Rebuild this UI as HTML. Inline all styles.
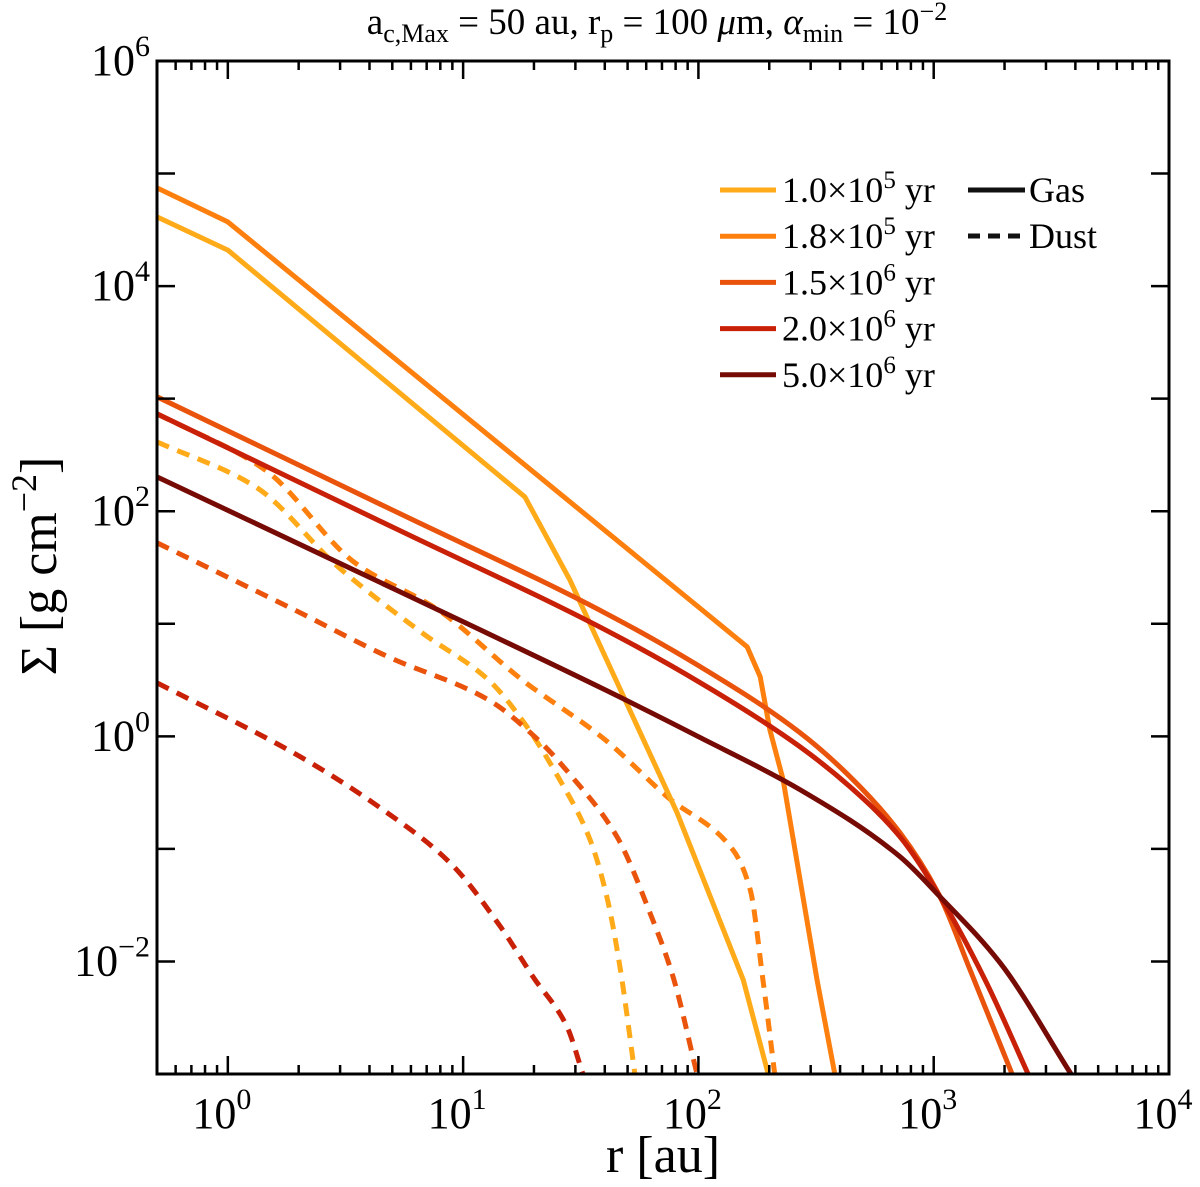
<!DOCTYPE html>
<html><head><meta charset="utf-8"><style>
body{margin:0;background:#fff}
svg{display:block;font-family:"Liberation Serif",serif}
</style></head><body>
<svg id="chart" width="1200" height="1187" viewBox="0 0 1200 1187">
<defs><clipPath id="clip"><rect x="157" y="61" width="1012" height="1013"/></clipPath></defs>
<text x="657" y="34" font-size="37" text-anchor="middle">a<tspan font-size="26" dy="8">c,Max</tspan><tspan dy="-8"> = 50 au, r</tspan><tspan font-size="26" dy="8">p</tspan><tspan dy="-8"> = 100 </tspan><tspan font-style="italic">μ</tspan><tspan>m, </tspan><tspan font-style="italic">α</tspan><tspan font-size="26" dy="8">min</tspan><tspan dy="-8"> = 10</tspan><tspan font-size="26" dy="-14">−2</tspan></text>
<g id="series" clip-path="url(#clip)"></g>
<g id="axes"></g>
<text x="663" y="1172" font-size="52" text-anchor="middle">r [au]</text>
<text transform="translate(56,566) rotate(-90)" font-size="52" text-anchor="middle">Σ [g cm<tspan font-size="36" dy="-20">−2</tspan><tspan dy="20">]</tspan></text>
<g id="legend"></g>
</svg>
<script>
const xTicks=[0,1,2,3,4];
const yTicks=[-2,0,2,4,6];
const labels=["1.0×10","1.8×10","1.5×10","2.0×10","5.0×10"];
const labelExp=["5","5","6","6","6"];
const colors=["#ffaa18","#fd7f0d","#ea530b","#c92107","#760a04"];
const gasR=[[0.5,1,18.3,28.4,81.1,155,198],[0.5,1,161,183,201,229,319,380],[0.5,5.4,40.1,102,270,441,719,1064,1426,2153],[0.5,5.4,40.1,102,270,441,719,1064,1652,2518],[0.5,5.4,40.1,102,270,719,1064,1914,3831]];
const gasS=[[4.12e4,2.09e4,134,24.6,0.210,6.89e-3,1e-3],[7.45e4,3.72e4,6.25,3.38,1.15,0.412,6.89e-3,1e-3],[1038,94.8,12.5,4.15,1.08,0.438,0.139,0.0376,8.45e-3,1e-3],[733,67.0,8.85,2.99,0.809,0.356,0.128,0.0376,6.89e-3,1e-3],[202,19.2,2.59,0.973,0.336,0.0853,0.0376,9.75e-3,1e-3]];
const dustR=[[0.5,1.31,2.94,6.69,12.8,17.8,25.3,34.6,40.8,46.4,53.7],[0.5,1.44,3.47,7.82,17.8,40.1,73.6,140,166,188,211],[0.5,1.80,4.80,12.8,20.8,29.0,45.1,62.2,78.0,98.6],[0.5,2.03,4.56,8.79,14.4,19.8,27.6,32.3]];
const dustS=[[413,165,32.1,8.32,3.18,1.40,0.438,0.121,0.0376,9.0e-3,1e-3],[733,233,34.8,13.3,3.18,0.933,0.291,0.0984,0.0434,6.89e-3,1e-3],[52.4,14.2,5.09,2.11,0.933,0.438,0.128,0.0271,7.33e-3,1e-3],[2.99,0.659,0.223,0.0754,0.0204,7.33e-3,2.64e-3,1e-3]];
const L=157,R=1169,T=61,B=1074,xmin=Math.log10(0.5),xmax=4,ymin=-3,ymax=6;
const NS="http://www.w3.org/2000/svg";
function X(v){return L+(Math.log10(v)-xmin)/(xmax-xmin)*(R-L);}
function Y(v){return B-(Math.log10(v)-ymin)/(ymax-ymin)*(B-T);}
function mk(t,a,p){const e=document.createElementNS(NS,t);for(const k in a)e.setAttribute(k,a[k]);p.appendChild(e);return e;}
const sg=document.getElementById('series');
function pathD(pts,smooth){
  if(!smooth)return pts.map((p,i)=>(i?'L':'M')+p[0].toFixed(1)+','+p[1].toFixed(1)).join('');
  const n=pts.length,h=[],dl=[],m=[];
  for(let i=0;i<n-1;i++){h[i]=pts[i+1][0]-pts[i][0];dl[i]=(pts[i+1][1]-pts[i][1])/h[i];}
  m[0]=dl[0];m[n-1]=dl[n-2];
  for(let i=1;i<n-1;i++){
    if(dl[i-1]*dl[i]<=0)m[i]=0;
    else{const w1=2*h[i]+h[i-1],w2=h[i]+2*h[i-1];m[i]=(w1+w2)/(w1/dl[i-1]+w2/dl[i]);}
  }
  let d='M'+pts[0][0].toFixed(1)+','+pts[0][1].toFixed(1);
  for(let i=0;i<n-1;i++){
    const p1=pts[i],p2=pts[i+1],hh=h[i]/3;
    d+='C'+(p1[0]+hh).toFixed(1)+','+(p1[1]+m[i]*hh).toFixed(1)+' '+(p2[0]-hh).toFixed(1)+','+(p2[1]-m[i+1]*hh).toFixed(1)+' '+p2[0].toFixed(1)+','+p2[1].toFixed(1);
  }
  return d;
}
function poly(rs,ss,c,dash,smooth,name){
  const pts=rs.map((r,i)=>[X(r),Y(ss[i])]);
  const p=mk('path',{d:pathD(pts,smooth),fill:'none',stroke:c,'stroke-width':5,'stroke-linejoin':'round'},sg);
  if(dash)p.setAttribute('stroke-dasharray','13 9');
  
  
}
dustR.forEach((r,i)=>poly(r,dustS[i],colors[i],true,true,'dust-line-'+i));
gasR.forEach((r,i)=>poly(r,gasS[i],colors[i],false,i>=2,'gas-line-'+i));
const ax=document.getElementById('axes');
const fr=mk('rect',{x:L,y:T,width:R-L,height:B-T,fill:'none',stroke:'#000','stroke-width':3},ax);


function ln(x1,y1,x2,y2){mk('line',{x1:x1,y1:y1,x2:x2,y2:y2,stroke:'#000','stroke-width':2.5},ax);}
for(let e=-1;e<=4;e++){for(let m=1;m<10;m++){const v=m*Math.pow(10,e);if(v<0.5||v>1e4)continue;const x=X(v);const len=m==1?18:9;ln(x,B,x,B-len);ln(x,T,x,T+len);}}
for(let e=-3;e<=6;e++){const y=Y(Math.pow(10,e));ln(L,y,L+18,y);ln(R,y,R-18,y);}
xTicks.forEach(e=>{const t=mk('text',{x:X(Math.pow(10,e))-6,y:1128,'font-size':44,'text-anchor':'middle'},ax);t.innerHTML='10<tspan font-size="30" dy="-19">'+e+'</tspan>';

});
yTicks.forEach(e=>{const t=mk('text',{x:150,y:Y(Math.pow(10,e))+14,'font-size':44,'text-anchor':'end'},ax);t.innerHTML='10<tspan font-size="30" dy="-19">'+(e<0?'−'+(-e):e)+'</tspan>';

});
const lg=document.getElementById('legend');
labels.forEach((s,i)=>{const y=190+i*46.2;
const l=mk('line',{x1:720,y1:y,x2:776,y2:y,stroke:colors[i],'stroke-width':5},lg);


const t=mk('text',{x:782,y:y+12,'font-size':36},lg);t.innerHTML=s+'<tspan font-size="25" dy="-14">'+labelExp[i]+'</tspan><tspan dy="14"> yr</tspan>';

});
const g1=mk('line',{x1:968,y1:190,x2:1025,y2:190,stroke:'#111','stroke-width':5},lg);


const g2=mk('line',{x1:968,y1:236,x2:1027,y2:236,stroke:'#111','stroke-width':5,'stroke-dasharray':'12 8'},lg);


const t1=mk('text',{x:1029,y:202,'font-size':36},lg);t1.textContent='Gas';


const t2=mk('text',{x:1029,y:248,'font-size':36},lg);t2.textContent='Dust';


</script>
</body></html>
